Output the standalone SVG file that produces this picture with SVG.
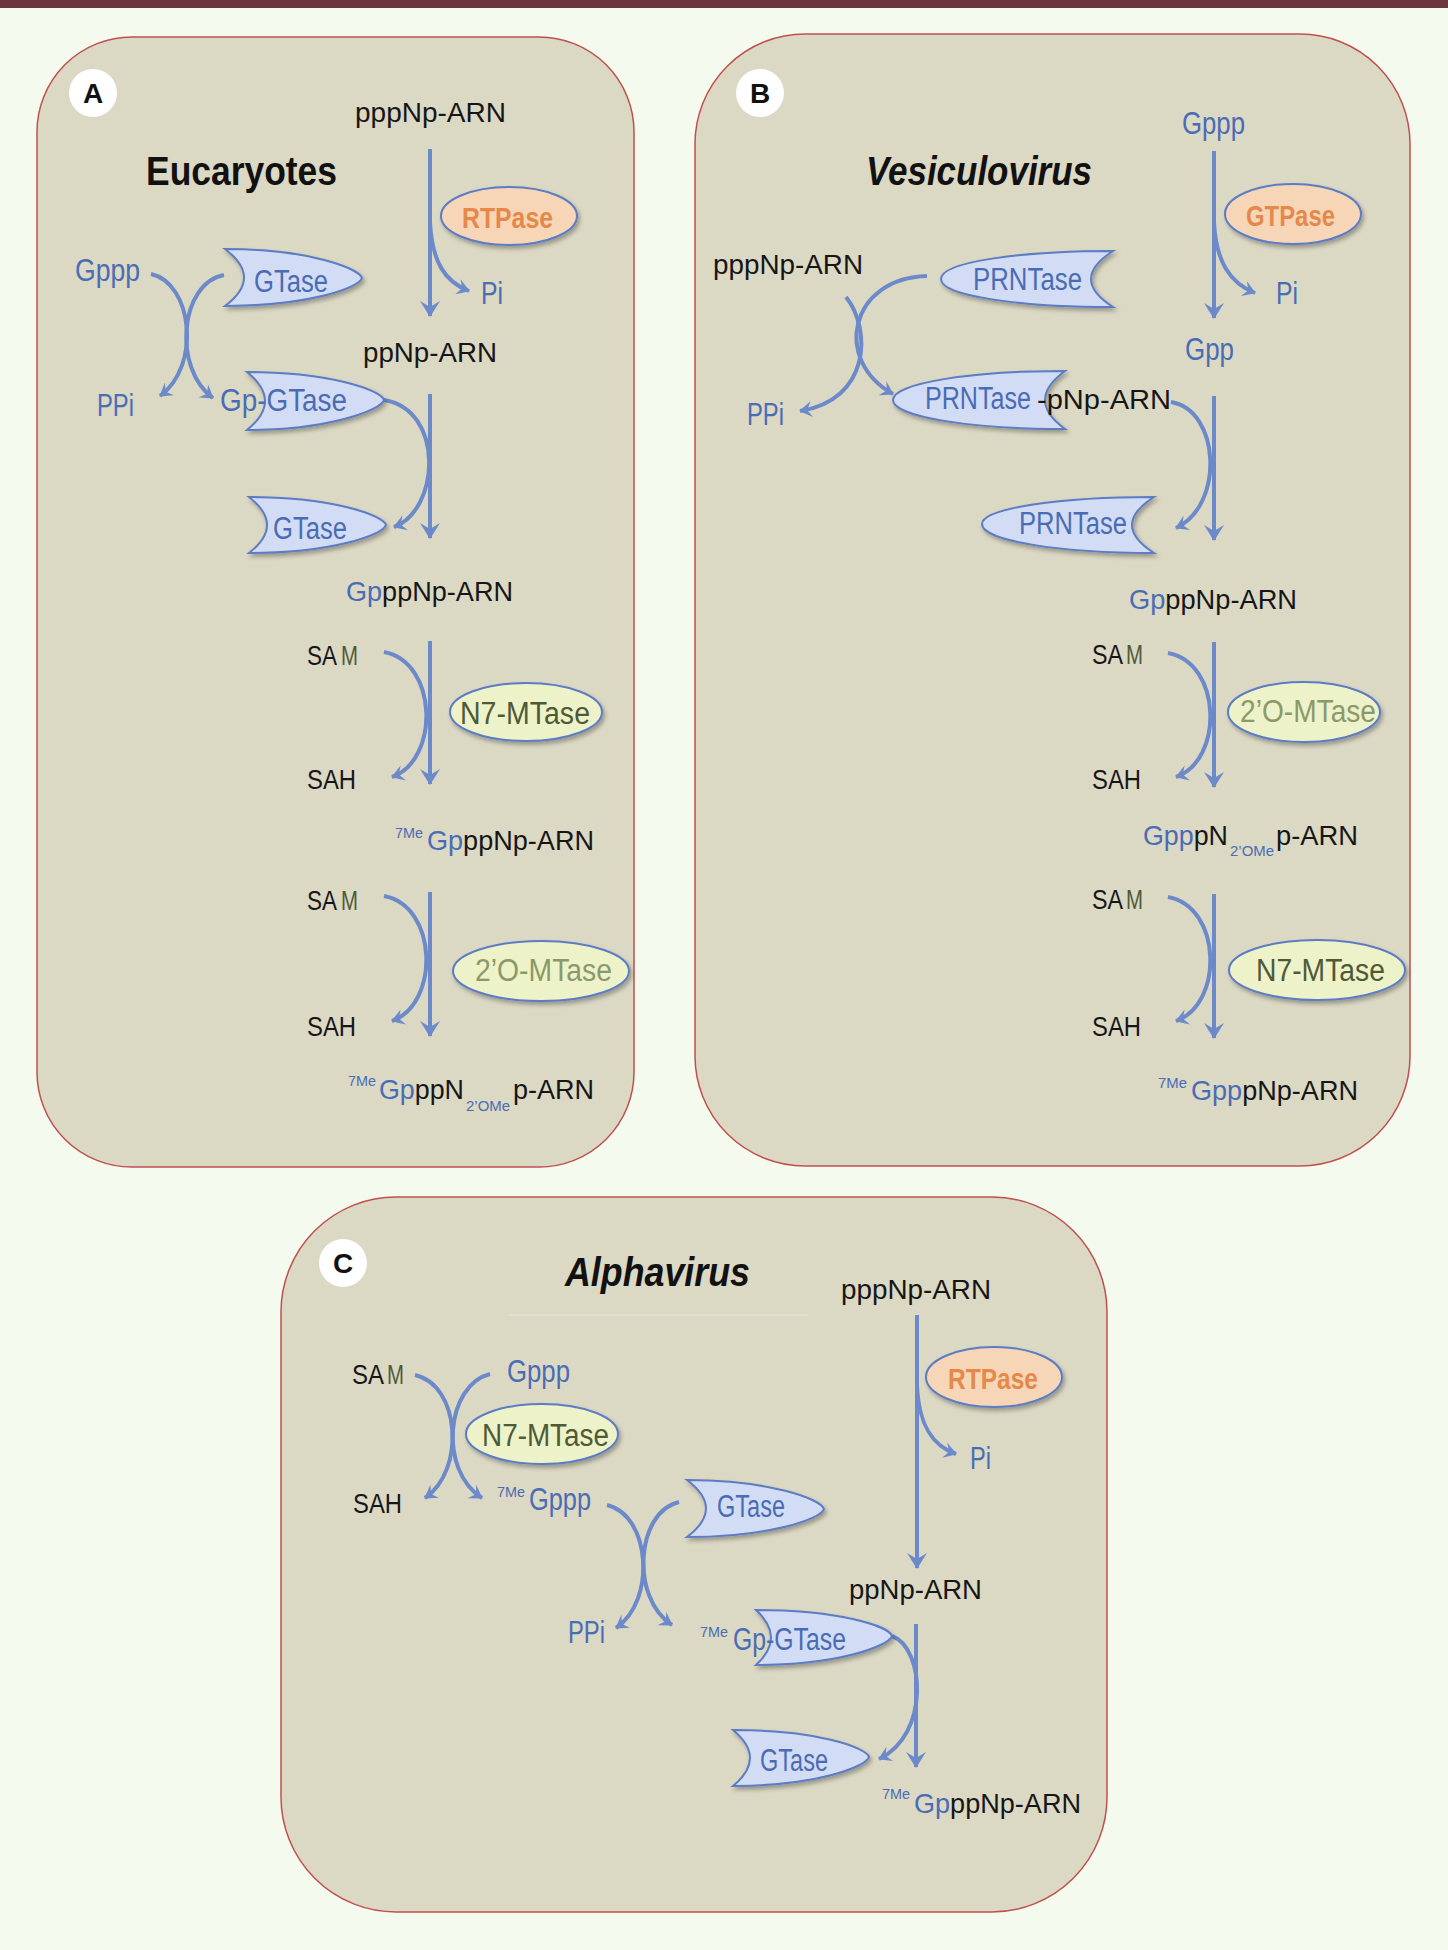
<svg xmlns="http://www.w3.org/2000/svg" width="1448" height="1950" viewBox="0 0 1448 1950">
<defs>
<style>
text{font-family:"Liberation Sans",Arial,sans-serif}
.k{font-size:28px;fill:#161616}
.bl{fill:#4a6cb4}
.m{font-size:28px;fill:#4e5a37}
.lb{font-size:31px;fill:#4a6cb4}
.sup{font-size:15px;fill:#4a6cb4}
.ttl{font-size:40px;font-weight:bold;fill:#111}
.it{font-style:italic}
.panel{fill:#dbd8c4;stroke:#c0504f;stroke-width:1.5}
.enz{fill:#d2ddf5;stroke:#5b7bc4;stroke-width:2;filter:url(#sh)}
.rt{fill:#f7d6b7;stroke:#5b7bc4;stroke-width:2;filter:url(#sh)}
.mt{fill:#eef2c9;stroke:#5b7bc4;stroke-width:2;filter:url(#sh)}
.rtt{font-size:30px;font-weight:bold;fill:#e5894b}
.n7{font-size:31px;fill:#4e5a37}
.o2{font-size:31px;fill:#8b9969}
.c{fill:none;stroke:#6c89c9;stroke-width:4;marker-end:url(#ah)}
.cs{fill:none;stroke:#6c89c9;stroke-width:4;marker-end:url(#as)}
.badge{fill:#fff}
.bt{font-size:28px;font-weight:bold;fill:#111;text-anchor:middle}
</style>
<filter id="sh" x="-10%" y="-20%" width="130%" height="160%"><feDropShadow dx="2" dy="3" stdDeviation="2" flood-color="#000" flood-opacity="0.3"/></filter>
<marker id="ah" viewBox="0 0 16 20" refX="15" refY="10" markerWidth="16" markerHeight="20" markerUnits="userSpaceOnUse" orient="auto"><path d="M0,0 L16,10 L0,20 L6,10 Z" fill="#6c89c9"/></marker>
<marker id="as" viewBox="0 0 16 20" refX="15" refY="10" markerWidth="13" markerHeight="16" markerUnits="userSpaceOnUse" orient="auto"><path d="M0,0 L16,10 L0,20 L6,10 Z" fill="#6c89c9"/></marker>
</defs>
<rect x="0" y="0" width="1448" height="1950" fill="#f4faee"/>
<rect x="0" y="0" width="1448" height="8" fill="#6d3540"/>

<g id="panels">
<rect class="panel" x="37" y="37" width="597" height="1130" rx="95" ry="95"/>
<rect class="panel" x="695" y="34" width="715" height="1132" rx="110" ry="110"/>
<rect class="panel" x="281" y="1197" width="826" height="715" rx="115" ry="115"/>
<line x1="509" y1="1315" x2="808" y2="1315" stroke="#e3e0cd" stroke-width="2"/>
</g>

<g id="connectors">
<path class="c" d="M430,149 V316"/>
<path class="cs" d="M430,222 C432,262 445,282 469,291"/>
<path class="cs" d="M151,274 C192,283 202,365 160,396"/>
<path class="cs" d="M224,275 C180,283 172,368 213,398"/>
<path class="c" d="M430,394 V538"/>
<path class="cs" d="M384,400 C445,410 440,510 394,527"/>
<path class="c" d="M430,641 V784"/>
<path class="cs" d="M384,652 C438,662 440,760 392,777"/>
<path class="c" d="M430,892 V1036"/>
<path class="cs" d="M384,896 C438,906 440,1004 392,1021"/>
<path class="c" d="M1214,151 V318"/>
<path class="cs" d="M1214,222 C1216,262 1230,283 1255,293"/>
<path class="cs" d="M927,276 C850,278 832,360 893,394"/>
<path class="cs" d="M846,297 C872,330 870,400 800,411"/>
<path class="c" d="M1214,396 V540"/>
<path class="cs" d="M1171,402 C1220,410 1225,505 1176,528"/>
<path class="c" d="M1214,642 V787"/>
<path class="cs" d="M1168,653 C1222,663 1224,760 1176,777"/>
<path class="c" d="M1214,894 V1038"/>
<path class="cs" d="M1168,897 C1222,907 1224,1004 1176,1021"/>
<path class="c" d="M917,1315 V1568"/>
<path class="cs" d="M917,1386 C919,1425 932,1446 956,1454"/>
<path class="cs" d="M415,1375 C460,1385 466,1470 425,1498"/>
<path class="cs" d="M490,1374 C446,1385 438,1470 482,1498"/>
<path class="cs" d="M607,1505 C650,1515 657,1600 616,1628"/>
<path class="cs" d="M679,1502 C636,1512 630,1598 672,1625"/>
<path class="c" d="M916,1624 V1767"/>
<path class="cs" d="M892,1636 C925,1648 930,1735 879,1759"/>
</g>

<g id="badgeA"><circle class="badge" cx="93" cy="93" r="24"/><text class="bt" x="93" y="103">A</text></g>
<g id="titleA"><text class="ttl" x="146" y="185" textLength="191" lengthAdjust="spacingAndGlyphs">Eucaryotes</text></g>
<g id="A-pppNp"><text class="k" x="355" y="122" textLength="151" lengthAdjust="spacingAndGlyphs">pppNp-ARN</text></g>
<g id="A-RTPase"><ellipse class="rt" cx="509" cy="216" rx="68" ry="29"/><text class="rtt" x="462" y="228" textLength="91" lengthAdjust="spacingAndGlyphs">RTPase</text></g>
<g id="A-Pi"><text class="lb" x="481" y="304" textLength="22" lengthAdjust="spacingAndGlyphs">Pi</text></g>
<g id="A-Gppp"><text class="lb" x="75" y="281" textLength="65" lengthAdjust="spacingAndGlyphs">Gppp</text></g>
<g id="A-GTase1"><path class="enz" d="M225,249 C307,249 359,268 362,278 C359,288 307,306 225,306 Q263,277.5 225,249 Z"/><text class="lb" x="254" y="292" textLength="74" lengthAdjust="spacingAndGlyphs">GTase</text></g>
<g id="A-ppNp"><text class="k" x="363" y="362" textLength="134" lengthAdjust="spacingAndGlyphs">ppNp-ARN</text></g>
<g id="A-PPi"><text class="lb" x="97" y="416" textLength="37" lengthAdjust="spacingAndGlyphs">PPi</text></g>
<g id="A-GpGTase"><path class="enz" d="M247,372 C329,372 381,390 384,400 C381,410 329,430 247,430 Q283,401 247,372 Z"/><text class="lb" x="220" y="411" textLength="127" lengthAdjust="spacingAndGlyphs">Gp-GTase</text></g>
<g id="A-GTase2"><path class="enz" d="M249,497 C331,497 383,515 386,525 C383,535 331,553 249,553 Q285,525 249,497 Z"/><text class="lb" x="273" y="539" textLength="74" lengthAdjust="spacingAndGlyphs">GTase</text></g>
<g id="A-GpppNp"><text class="k" x="346" y="601" textLength="167" lengthAdjust="spacingAndGlyphs"><tspan class="bl">Gp</tspan>ppNp-ARN</text></g>
<g id="A-SAM1"><text class="k" x="307" y="665" textLength="30" lengthAdjust="spacingAndGlyphs">SA</text><text class="m" x="341" y="665" textLength="17" lengthAdjust="spacingAndGlyphs">M</text></g>
<g id="A-N7"><ellipse class="mt" cx="526" cy="712" rx="76" ry="29"/><text class="n7" x="460" y="724" textLength="130" lengthAdjust="spacingAndGlyphs">N7-MTase</text></g>
<g id="A-SAH1"><text class="k" x="307" y="789" textLength="49" lengthAdjust="spacingAndGlyphs">SAH</text></g>
<g id="A-7MeGpppNp"><text class="sup" x="395" y="838" textLength="28" lengthAdjust="spacingAndGlyphs">7Me</text><text class="k" x="427" y="850" textLength="167" lengthAdjust="spacingAndGlyphs"><tspan class="bl">Gp</tspan>ppNp-ARN</text></g>
<g id="A-SAM2"><text class="k" x="307" y="910" textLength="30" lengthAdjust="spacingAndGlyphs">SA</text><text class="m" x="341" y="910" textLength="17" lengthAdjust="spacingAndGlyphs">M</text></g>
<g id="A-2O"><ellipse class="mt" cx="541" cy="971" rx="88" ry="30"/><text class="o2" x="475" y="981" textLength="137" lengthAdjust="spacingAndGlyphs">2’O-MTase</text></g>
<g id="A-SAH2"><text class="k" x="307" y="1036" textLength="49" lengthAdjust="spacingAndGlyphs">SAH</text></g>
<g id="A-final"><text class="sup" x="348" y="1086" textLength="28" lengthAdjust="spacingAndGlyphs">7Me</text><text class="k" x="379" y="1099" textLength="85" lengthAdjust="spacingAndGlyphs"><tspan class="bl">Gp</tspan>ppN</text><text class="sup" x="466" y="1111" textLength="44" lengthAdjust="spacingAndGlyphs">2’OMe</text><text class="k" x="513" y="1099" textLength="81" lengthAdjust="spacingAndGlyphs">p-ARN</text></g>

<g id="badgeB"><circle class="badge" cx="760" cy="93" r="24"/><text class="bt" x="760" y="103">B</text></g>
<g id="titleB"><text class="ttl it" x="866" y="185" textLength="226" lengthAdjust="spacingAndGlyphs">Vesiculovirus</text></g>
<g id="B-Gppp"><text class="lb" x="1182" y="134" textLength="63" lengthAdjust="spacingAndGlyphs">Gppp</text></g>
<g id="B-GTPase"><ellipse class="rt" cx="1293" cy="214" rx="68" ry="30"/><text class="rtt" x="1246" y="226" textLength="89" lengthAdjust="spacingAndGlyphs">GTPase</text></g>
<g id="B-Pi"><text class="lb" x="1276" y="304" textLength="22" lengthAdjust="spacingAndGlyphs">Pi</text></g>
<g id="B-pppNp"><text class="k" x="713" y="274" textLength="150" lengthAdjust="spacingAndGlyphs">pppNp-ARN</text></g>
<g id="B-PRNTase1"><path class="enz" d="M1113,251 C1020,251 941,262 941,279 C941,296 1020,307 1113,307 Q1069,279 1113,251 Z"/><text class="lb" x="973" y="290" textLength="109" lengthAdjust="spacingAndGlyphs">PRNTase</text></g>
<g id="B-Gpp"><text class="lb" x="1185" y="360" textLength="49" lengthAdjust="spacingAndGlyphs">Gpp</text></g>
<g id="B-PPi"><text class="lb" x="747" y="425" textLength="37" lengthAdjust="spacingAndGlyphs">PPi</text></g>
<g id="B-PRNTase-pNp"><path class="enz" d="M1065,371 C972,371 893,383 893,400 C893,417 972,429 1065,429 Q1025,400 1065,371 Z"/><text class="lb" x="925" y="409" textLength="106" lengthAdjust="spacingAndGlyphs">PRNTase</text><text class="k" x="1037" y="409" textLength="134" lengthAdjust="spacingAndGlyphs">-pNp-ARN</text></g>
<g id="B-PRNTase2"><path class="enz" d="M1154,497 C1061,497 982,508 982,524 C982,541 1061,553 1154,553 Q1110,525 1154,497 Z"/><text class="lb" x="1019" y="534" textLength="108" lengthAdjust="spacingAndGlyphs">PRNTase</text></g>
<g id="B-GpppNp"><text class="k" x="1129" y="609" textLength="168" lengthAdjust="spacingAndGlyphs"><tspan class="bl">Gp</tspan>ppNp-ARN</text></g>
<g id="B-SAM1"><text class="k" x="1092" y="664" textLength="31" lengthAdjust="spacingAndGlyphs">SA</text><text class="m" x="1126" y="664" textLength="17" lengthAdjust="spacingAndGlyphs">M</text></g>
<g id="B-2O"><ellipse class="mt" cx="1304" cy="712" rx="76" ry="30"/><text class="o2" x="1240" y="722" textLength="136" lengthAdjust="spacingAndGlyphs">2’O-MTase</text></g>
<g id="B-SAH1"><text class="k" x="1092" y="789" textLength="49" lengthAdjust="spacingAndGlyphs">SAH</text></g>
<g id="B-GpppN2OMe"><text class="k" x="1143" y="845" textLength="85" lengthAdjust="spacingAndGlyphs"><tspan class="bl">Gpp</tspan>pN</text><text class="sup" x="1230" y="856" textLength="44" lengthAdjust="spacingAndGlyphs">2’OMe</text><text class="k" x="1276" y="845" textLength="82" lengthAdjust="spacingAndGlyphs">p-ARN</text></g>
<g id="B-SAM2"><text class="k" x="1092" y="909" textLength="31" lengthAdjust="spacingAndGlyphs">SA</text><text class="m" x="1126" y="909" textLength="17" lengthAdjust="spacingAndGlyphs">M</text></g>
<g id="B-N7"><ellipse class="mt" cx="1317" cy="970" rx="88" ry="30"/><text class="n7" x="1256" y="981" textLength="129" lengthAdjust="spacingAndGlyphs">N7-MTase</text></g>
<g id="B-SAH2"><text class="k" x="1092" y="1036" textLength="49" lengthAdjust="spacingAndGlyphs">SAH</text></g>
<g id="B-final"><text class="sup" x="1158" y="1088" textLength="29" lengthAdjust="spacingAndGlyphs">7Me</text><text class="k" x="1191" y="1100" textLength="167" lengthAdjust="spacingAndGlyphs"><tspan class="bl">Gpp</tspan>pNp-ARN</text></g>

<g id="badgeC"><circle class="badge" cx="343" cy="1263" r="24"/><text class="bt" x="343" y="1273">C</text></g>
<g id="titleC"><text class="ttl it" x="565" y="1286" textLength="185" lengthAdjust="spacingAndGlyphs">Alphavirus</text></g>
<g id="C-pppNp"><text class="k" x="841" y="1299" textLength="150" lengthAdjust="spacingAndGlyphs">pppNp-ARN</text></g>
<g id="C-RTPase"><ellipse class="rt" cx="994" cy="1377" rx="68" ry="30"/><text class="rtt" x="948" y="1389" textLength="90" lengthAdjust="spacingAndGlyphs">RTPase</text></g>
<g id="C-Pi"><text class="lb" x="970" y="1469" textLength="21" lengthAdjust="spacingAndGlyphs">Pi</text></g>
<g id="C-SAM"><text class="k" x="352" y="1384" textLength="32" lengthAdjust="spacingAndGlyphs">SA</text><text class="m" x="387" y="1384" textLength="17" lengthAdjust="spacingAndGlyphs">M</text></g>
<g id="C-Gppp"><text class="lb" x="507" y="1382" textLength="63" lengthAdjust="spacingAndGlyphs">Gppp</text></g>
<g id="C-N7"><ellipse class="mt" cx="542" cy="1434" rx="76" ry="30"/><text class="n7" x="482" y="1446" textLength="127" lengthAdjust="spacingAndGlyphs">N7-MTase</text></g>
<g id="C-SAH"><text class="k" x="353" y="1513" textLength="49" lengthAdjust="spacingAndGlyphs">SAH</text></g>
<g id="C-7MeGppp"><text class="sup" x="497" y="1497" textLength="28" lengthAdjust="spacingAndGlyphs">7Me</text><text class="lb" x="529" y="1510" textLength="62" lengthAdjust="spacingAndGlyphs">Gppp</text></g>
<g id="C-GTase1"><path class="enz" d="M687,1480 C769,1480 821,1499 824,1509 C821,1519 769,1537 687,1537 Q725,1508.5 687,1480 Z"/><text class="lb" x="717" y="1517" textLength="68" lengthAdjust="spacingAndGlyphs">GTase</text></g>
<g id="C-PPi"><text class="lb" x="568" y="1643" textLength="37" lengthAdjust="spacingAndGlyphs">PPi</text></g>
<g id="C-ppNp"><text class="k" x="849" y="1599" textLength="133" lengthAdjust="spacingAndGlyphs">ppNp-ARN</text></g>
<g id="C-GpGTase"><path class="enz" d="M756,1610 C838,1610 889,1626 892,1636 C889,1646 838,1665 756,1665 Q786,1637.5 756,1610 Z"/><text class="sup" x="700" y="1637" textLength="28" lengthAdjust="spacingAndGlyphs">7Me</text><text class="lb" x="733" y="1650" textLength="113" lengthAdjust="spacingAndGlyphs">Gp-GTase</text></g>
<g id="C-GTase2"><path class="enz" d="M733,1730 C815,1730 866,1747 869,1757 C866,1767 815,1786 733,1786 Q767,1758 733,1730 Z"/><text class="lb" x="760" y="1771" textLength="68" lengthAdjust="spacingAndGlyphs">GTase</text></g>
<g id="C-final"><text class="sup" x="882" y="1799" textLength="28" lengthAdjust="spacingAndGlyphs">7Me</text><text class="k" x="914" y="1813" textLength="167" lengthAdjust="spacingAndGlyphs"><tspan class="bl">Gp</tspan>ppNp-ARN</text></g>
</svg>
